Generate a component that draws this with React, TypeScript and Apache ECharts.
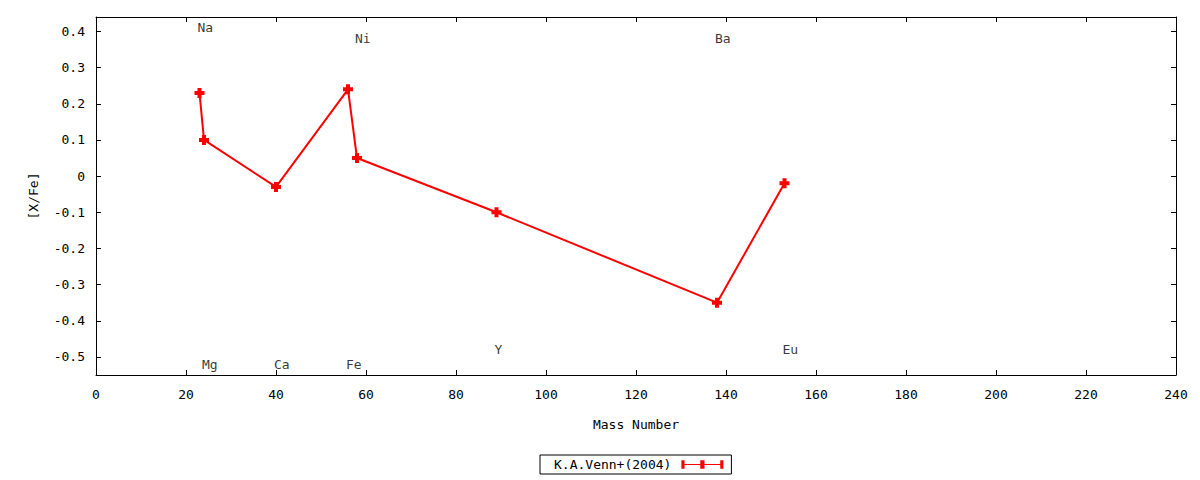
import React, { useEffect, useRef } from "react";
import * as echarts from "echarts";

const seriesName = "K.A.Venn+(2004)";
const elements = ["Na", "Mg", "Ca", "Fe", "Ni", "Y", "Ba", "Eu"];
const massNumbers = [23, 24, 40, 56, 58, 89, 138, 153];
const xFe = [0.23, 0.1, -0.03, 0.24, 0.05, -0.1, -0.35, -0.02];
const labelY = [0.41, -0.52, -0.52, -0.52, 0.38, -0.48, 0.38, -0.48];
const yTicks = [-0.5, -0.4, -0.3, -0.2, -0.1, 0, 0.1, 0.2, 0.3, 0.4];

const FONT = "DejaVu Sans Mono";
const PLUS = "path://M3,0h4v3h3v4h-3v3h-4v-3h-3v-4h3z";
const LEGEND_ICON =
  "path://M0,1h3v3.5h15v-3.5h4v3.5h15v-3.5h3v8h-3v-3.5h-15v3.5h-4v-3.5h-15v3.5h-3z";

export default function App() {
  const ref = useRef<HTMLDivElement>(null);
  useEffect(() => {
    if (!ref.current) return;
    const chart = echarts.init(ref.current, undefined, { renderer: "svg" });
    const lineData = massNumbers.map((m, i) => [m, xFe[i]]);
    const labelData = massNumbers.map((m, i) => ({ value: [m, labelY[i]], name: elements[i] }));
    const axisLine = { show: true, onZero: false, lineStyle: { color: "#000", width: 1 } };
    const yLabelFmt = (v: number) => (Math.abs(v) < 1e-9 ? "0" : v.toFixed(1));
    chart.setOption({
      animation: false,
      backgroundColor: "#fff",
      textStyle: { fontFamily: FONT, color: "#000" },
      grid: { left: 96, top: 17, right: 24, bottom: 105, containLabel: false },
      legend: {
        data: [seriesName],
        left: 540,
        top: 455,
        align: "right",
        icon: LEGEND_ICON,
        itemWidth: 42,
        itemHeight: 10,
        padding: [3, 8, 3, 14],
        borderColor: "#000",
        borderWidth: 1,
        borderRadius: 0,
        formatter: (n: string) => "{t|" + n + "}",
        textStyle: {
          fontFamily: FONT,
          fontSize: 13,
          color: "#000",
          rich: { t: { fontFamily: FONT, fontSize: 13, color: "#000", padding: [0, 5, 0, 0] } },
        },
        selectedMode: false,
      },
      xAxis: [
        {
          type: "value",
          min: 0,
          max: 240,
          interval: 20,
          position: "bottom",
          name: "Mass Number",
          nameLocation: "middle",
          nameGap: 43,
          nameTextStyle: { fontFamily: FONT, fontSize: 13, color: "#000" },
          axisLine,
          axisTick: { show: true, inside: true, length: 5, lineStyle: { color: "#000" } },
          axisLabel: { fontFamily: FONT, fontSize: 13, color: "#000", margin: 13, showMinLabel: true, showMaxLabel: true },
          splitLine: { show: false },
        },
        {
          type: "value",
          min: 0,
          max: 240,
          interval: 20,
          position: "top",
          axisLine,
          axisTick: { show: true, inside: true, length: 5, lineStyle: { color: "#000" } },
          axisLabel: { show: false },
          splitLine: { show: false },
        },
      ],
      yAxis: [
        {
          type: "value",
          min: -0.55,
          max: 0.44,
          position: "left",
          name: "[X/Fe]",
          nameLocation: "middle",
          nameGap: 56,
          nameRotate: 90,
          nameTextStyle: { fontFamily: FONT, fontSize: 13, color: "#000" },
          axisLine,
          axisTick: { show: true, inside: true, length: 5, customValues: yTicks, lineStyle: { color: "#000" } },
          axisLabel: { fontFamily: FONT, fontSize: 13, color: "#000", margin: 11, customValues: yTicks, formatter: yLabelFmt },
          splitLine: { show: false },
        },
        {
          type: "value",
          min: -0.55,
          max: 0.44,
          position: "right",
          axisLine,
          axisTick: { show: true, inside: true, length: 5, customValues: yTicks, lineStyle: { color: "#000" } },
          axisLabel: { show: false, customValues: yTicks },
          splitLine: { show: false },
        },
      ],
      series: [
        {
          name: seriesName,
          type: "line",
          data: lineData,
          symbol: PLUS,
          symbolSize: 10,
          showAllSymbol: true,
          itemStyle: { color: "#ff0000" },
          lineStyle: { color: "#ff0000", width: 2 },
          z: 3,
        },
        {
          name: "labels",
          type: "scatter",
          data: labelData,
          symbolSize: 1,
          itemStyle: { color: "rgba(0,0,0,0)" },
          silent: true,
          label: {
            show: true,
            position: "inside",
            align: "left",
            verticalAlign: "middle",
            offset: [-2, 0],
            formatter: (p: any) => p.name,
            fontFamily: FONT,
            fontSize: 13,
            color: "#000",
          },
          z: 2,
        },
      ],
    });
    return () => chart.dispose();
  }, []);
  return (
    <div
      ref={ref}
      style={{ position: "absolute", left: 0, top: 0, width: 1200, height: 480, background: "#fff" }}
    />
  );
}
